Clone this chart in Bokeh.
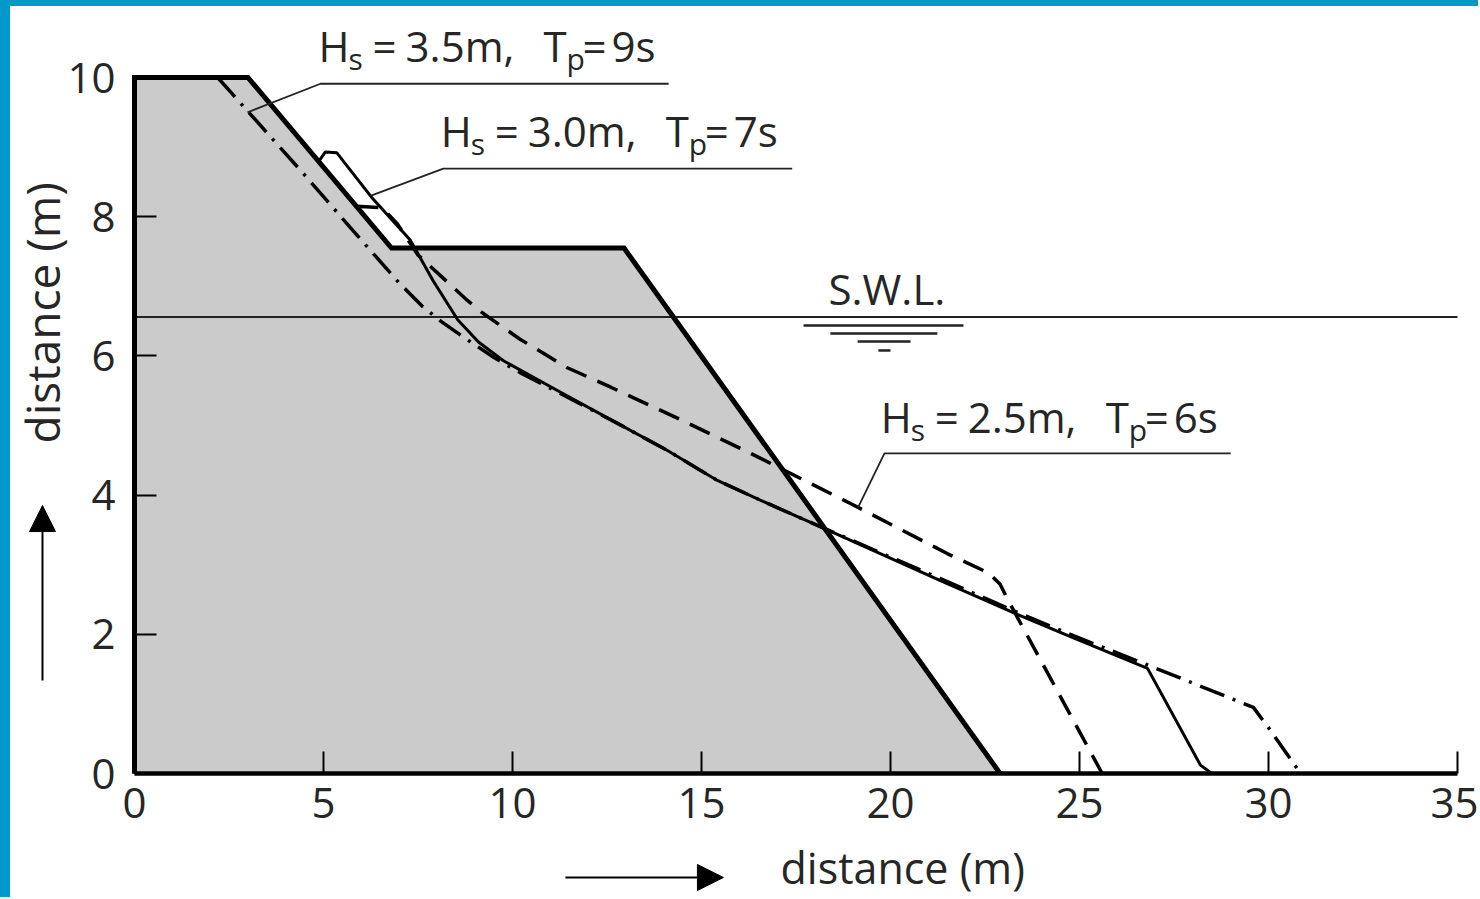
import math
from bokeh.plotting import figure
from bokeh.models import (Range1d, FixedTicker, Label, Arrow, NormalHead, Div,
                          ColumnDataSource, LinearAxis)
from bokeh.layouts import column, row
from bokeh.core.properties import value
from bokeh.embed import file_html
from bokeh.resources import INLINE

# ---------------- data ----------------
x_ticks = [0, 5, 10, 15, 20, 25, 30, 35]
y_ticks = [0, 2, 4, 6, 8, 10]

# original (grey) structure profile
orig_x = [0, 0, 3.0, 6.8, 12.95, 22.9]
orig_y = [0, 10, 10, 7.55, 7.55, 0]

# reshaped profiles
hs35_x = [2.2, 4.5, 5.7, 7.0, 7.6, 8.1, 8.7, 9.5, 10.2, 11.2, 12.78, 14.1, 15.42,
          16.75, 17.96, 21.32, 23.25, 24.84, 26.8, 29.6, 30.05, 30.85]
hs35_y = [10.0, 8.6, 7.85, 7.05, 6.72, 6.5, 6.27, 5.98, 5.76, 5.48, 5.03, 4.64, 4.21,
          3.88, 3.59, 2.8, 2.34, 1.98, 1.56, 0.95, 0.62, 0.0]

hs30_x = [4.88, 5.05, 5.35, 5.55, 6.3, 7.3, 7.9, 8.55, 9.1, 9.76, 11.2, 12.78, 14.1,
          15.42, 16.75, 17.96, 21.32, 23.25, 24.84, 26.8, 28.2, 28.5]
hs30_y = [8.8, 8.93, 8.92, 8.78, 8.26, 7.66, 7.08, 6.52, 6.2, 5.93, 5.5, 5.03, 4.64,
          4.21, 3.88, 3.59, 2.77, 2.31, 1.95, 1.51, 0.12, 0.0]

hs25_x = [5.87, 6.55, 6.95, 7.5, 8.1, 8.8, 9.2, 10.2, 11.45, 12.6, 14.5, 16.3, 18.94,
          21.5, 22.6, 22.9, 23.1, 25.6]
hs25_y = [8.15, 8.13, 7.9, 7.45, 7.15, 6.8, 6.62, 6.24, 5.83, 5.55, 5.07, 4.6, 3.88,
          3.16, 2.88, 2.72, 2.5, 0.0]

swl_level = 6.56

# leader lines for the labels
lead35_x = [2.99, 4.92, 14.13]
lead35_y = [9.5, 9.91, 9.91]
lead30_x = [6.24, 8.17, 17.4]
lead30_y = [8.30, 8.69, 8.69]
lead25_x = [19.13, 19.84, 29.0]
lead25_y = [3.81, 4.60, 4.60]

label_hs = ["3.5m,", "3.0m,", "2.5m,"]
label_tp = ["9s", "7s", "6s"]
label_x = [4.87, 8.10, 19.74]
label_y = [10.21, 8.99, 4.89]

# SWL symbol bars
swl_bar_x0 = [17.7, 18.41, 19.13, 19.68]
swl_bar_x1 = [21.93, 21.24, 20.53, 20.0]
swl_bar_y = [6.437, 6.322, 6.207, 6.078]

# ---------------- layout constants (pixels) ----------------
FIG_X, FIG_Y = 10, 6          # where the figure starts on the page
W, H = 1468, 891              # figure size
PX0, PY0 = 134, 773           # page pixel of data (0, 0)
SX, SY = 37.8, 69.6           # pixels per data unit
BASE_FIX = -17                # baseline correction for alphabetic text

FONT = "Open Sans"
TXT = "#262626"

p = figure(width=W, height=H,
           x_range=Range1d((FIG_X - PX0) / SX, (FIG_X + W - PX0) / SX),
           y_range=Range1d((PY0 - (FIG_Y + H)) / SY, (PY0 - FIG_Y) / SY),
           output_backend="svg", toolbar_location=None,
           x_axis_location=None, y_axis_location=None,
           min_border_left=0, min_border_right=0, min_border_top=0, min_border_bottom=0)
p.outline_line_color = None
p.background_fill_color = "white"
p.border_fill_color = "white"
p.grid.visible = False

xaxis = LinearAxis(fixed_location=0, bounds=(0, 35), ticker=FixedTicker(ticks=x_ticks))
yaxis = LinearAxis(fixed_location=0, bounds=(0, 10), ticker=FixedTicker(ticks=y_ticks))
for ax in (xaxis, yaxis):
    ax.axis_line_width = 4.5
    ax.axis_line_color = "black"
    ax.major_tick_in = 22
    ax.major_tick_out = 0
    ax.major_tick_line_width = 2
    ax.major_tick_line_color = "black"
    ax.minor_tick_line_color = None
    ax.major_label_text_font = FONT
    ax.major_label_text_font_size = "42px"
    ax.major_label_text_color = TXT
xaxis.major_label_standoff = 14
yaxis.major_label_standoff = 19

# grey structure
p.patch(orig_x, orig_y, fill_color="#cbcbcb", line_color=None)
# still water level
p.line([0, 35], [swl_level, swl_level], line_color="#222222", line_width=2)
p.segment(x0=swl_bar_x0, x1=swl_bar_x1, y0=swl_bar_y, y1=swl_bar_y,
          line_color="#222222", line_width=2.5)

# profiles
p.line(hs35_x, hs35_y, line_color="black", line_width=3.5, line_dash="26 9 3 9")
p.line(hs30_x, hs30_y, line_color="black", line_width=3)
p.line(hs25_x, hs25_y, line_color="black", line_width=3.5, line_dash="22 12")
p.line(orig_x, orig_y, line_color="black", line_width=5, line_join="miter")

p.add_layout(xaxis, "below")
p.add_layout(yaxis, "left")

# leaders
for lx, ly in ((lead35_x, lead35_y), (lead30_x, lead30_y), (lead25_x, lead25_y)):
    p.line(lx, ly, line_color="#222222", line_width=1.8)

# labels  H_s = ..m,  T_p = ..s
big = ColumnDataSource(dict(
    x=label_x * 6, y=label_y * 6,
    text=["H"] * 3 + ["="] * 3 + label_hs + ["T"] * 3 + ["="] * 3 + label_tp,
    xo=[0] * 3 + [54] * 3 + [87] * 3 + [225] * 3 + [264] * 3 + [293] * 3,
))
p.text(x="x", y="y", text="text", x_offset="xo", y_offset=BASE_FIX, source=big,
       text_font=value(FONT), text_font_size="42px", text_color=TXT,
       text_align="left", text_baseline="alphabetic")
small = ColumnDataSource(dict(
    x=label_x * 2, y=label_y * 2,
    text=["s"] * 3 + ["p"] * 3,
    xo=[30] * 3 + [248] * 3,
))
p.text(x="x", y="y", text="text", x_offset="xo", y_offset=BASE_FIX + 13, source=small,
       text_font=value(FONT), text_font_size="30px", text_color=TXT,
       text_align="left", text_baseline="alphabetic")

p.add_layout(Label(x=18.36, y=6.724, y_offset=-BASE_FIX, text="S.W.L.", text_font=FONT,
                   text_font_size="42px", text_color=TXT,
                   text_align="left", text_baseline="alphabetic"))

# axis titles with arrows
p.add_layout(Label(x=17.09, y=-1.595, y_offset=-BASE_FIX, text="distance (m)", text_font=FONT,
                   text_font_size="43px", text_color=TXT,
                   text_align="left", text_baseline="alphabetic"))
p.add_layout(Label(x=-2.434, y=6.62, text="distance (m)", text_font=FONT,
                   text_font_size="46px", text_color=TXT,
                   text_align="center", text_baseline="middle", angle=math.pi / 2))
p.add_layout(Arrow(x_start=11.40, y_start=-1.494, x_end=15.58, y_end=-1.494, line_width=2,
                   end=NormalHead(size=26, fill_color="black", line_color="black")))
p.add_layout(Arrow(x_start=-2.434, y_start=1.336, x_end=-2.434, y_end=3.85, line_width=2,
                   end=NormalHead(size=26, fill_color="black", line_color="black")))

top = Div(width=FIG_X + W, height=FIG_Y, margin=0, styles={"background-color": "#0099cc"})
left = Div(width=FIG_X, height=H, margin=0, styles={"background-color": "#0099cc"})
layout = column(top, row(left, p, spacing=0), spacing=0)

open("out.html", "w").write(file_html(layout, INLINE))
